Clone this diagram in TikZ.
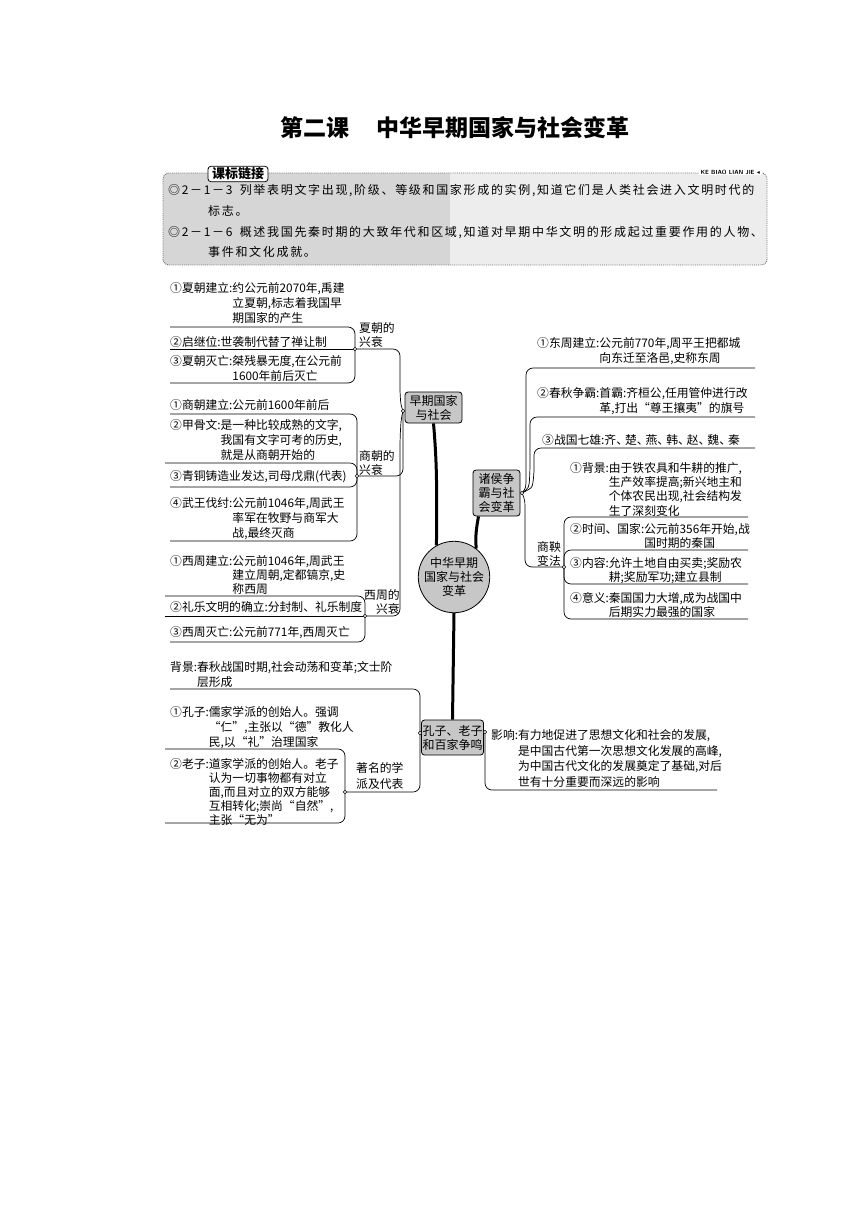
\documentclass[tikz,border=0pt]{standalone}
\usepackage{fontspec}
\setmainfont{Noto Sans CJK SC}
\newfontfamily\symfont{DejaVu Sans}
\newfontfamily\hdfont[LetterSpace=14]{Noto Sans CJK SC}
\newcommand{\hang}[2]{#1\begin{tabular}[t]{@{}l@{}}#2\end{tabular}}
\newcommand{\stk}[1]{\begin{tabular}[t]{@{}l@{}}#1\end{tabular}}
\newcommand{\stkr}[1]{\begin{tabular}[t]{@{}r@{}}#1\end{tabular}}
\newcommand{\dn}{、\kern-3pt}
\tikzset{
 conn/.style={line width=0.7pt, rounded corners=7pt},
 thk/.style={line width=3pt},
 leaf/.style={anchor=base west, inner sep=0pt, font=\fontsize{11.8}{15}\selectfont},
 leafb/.style={anchor=base west, inner sep=0pt, font=\fontsize{11.8}{14}\selectfont},
 leafc/.style={anchor=base west, inner sep=0pt, font=\fontsize{11.8}{13}\selectfont},
 lab/.style={anchor=base west, inner sep=0pt, font=\fontsize{11.8}{13}\selectfont},
 box/.style={draw, line width=0.8pt, fill=black!22, rounded corners=3pt, align=center, inner sep=1pt, font=\fontsize{12}{14}\selectfont},
 dot/.style={circle, draw, fill=white, inner sep=0pt, minimum size=3.6pt, line width=0.5pt},
 hd/.style={anchor=base west, inner sep=0pt, font=\hdfont\fontsize{12}{14}\selectfont},
}
\begin{document}
\begin{tikzpicture}[x=1pt,y=-1pt]
\useasboundingbox[fill=white] (0,0) rectangle (860,1216);

% title
\node[font=\bfseries\fontsize{23}{25}\selectfont] (title) at (455,128) {第二课\hspace{1.2em}中华早期国家与社会变革};

% header box
\begin{scope}
\clip[rounded corners=6pt] (163,173) rectangle (767,265);
\fill[black!16] (163,173) rectangle (450,265);
\fill[black!7] (450,173) rectangle (767,265);
\end{scope}
\draw[black!55, densely dotted, line width=0.9pt, rounded corners=6pt] (163,173) rectangle (767,265);
\node[draw, fill=white, rounded corners=3pt, line width=0.8pt, font=\bfseries\fontsize{13}{15}\selectfont, inner xsep=4pt, inner ysep=1.5pt] (tab) at (238,174) {课标链接};
\node[fill=white, inner xsep=2pt, inner ysep=1pt, font=\sffamily\bfseries\fontsize{6}{7}\selectfont, anchor=east] (kb) at (762,172) {KE BIAO LIAN JIE {\symfont ◂}};
\node[hd] (h1) at (168,194.5) {◎2－1－3\hspace{0.6em}列举表明文字出现,阶级、等级和国家形成的实例,知道它们是人类社会进入文明时代的};
\node[hd] (h2) at (208,215.5) {标志。};
\node[hd] (h3) at (168,236.5) {◎2－1－6\hspace{0.6em}概述我国先秦时期的大致年代和区域,知道对早期中华文明的形成起过重要作用的人物、};
\node[hd] (h4) at (208,256.5) {事件和文化成就。};

% main nodes
\node[circle, draw, line width=0.8pt, fill=black!22, minimum size=66pt, inner sep=0pt, align=center, font=\fontsize{12}{14}\selectfont] (ctr) at (454,577) {中华早期\\国家与社会\\变革};
\node[box, minimum width=57pt, minimum height=31pt] (A) at (433.5,407.5) {早期国家\\与社会};
\node[box, minimum width=47pt, minimum height=46pt] (B) at (496.5,493) {诸侯争\\霸与社\\会变革};
\node[box, minimum width=61pt, minimum height=35pt] (C) at (452.5,737.5) {孔子、老子\\和百家争鸣};

\draw[thk] (ctr.119) to[out=90,in=-85] (A.south);
\draw[thk] (ctr.52) to[out=95,in=-100] ([xshift=-18pt]B.south);
\draw[thk] (ctr.south) -- (C.north);

% junction coordinates
\coordinate (a0) at (403,411);
\coordinate (j1) at (355,349);
\coordinate (j2) at (357,476);
\coordinate (j3) at (365,616);
\coordinate (b0) at (522,493);
\coordinate (s0) at (564,567);
\coordinate (c0) at (420,733);
\coordinate (c1) at (485,732);
\coordinate (k) at (345,792);

% underline ends
\coordinate (wl1) at (170,327);
\coordinate (wl2) at (170,349);
\coordinate (wl3) at (170,383);
\coordinate (wm1) at (170,414);
\coordinate (wm2) at (165,463);
\coordinate (wm3) at (170,487);
\coordinate (wm4) at (170,541);
\coordinate (wn1) at (165,596);
\coordinate (wn2) at (165,616);
\coordinate (wn3) at (170,642);
\coordinate (wr1) at (755,368);
\coordinate (wr2) at (755,417);
\coordinate (wr3) at (755,448);
\coordinate (ws1) at (748,517);
\coordinate (ws2) at (748,550);
\coordinate (ws3) at (748,584);
\coordinate (ws4) at (748,619);
\coordinate (wp0) at (170,689);
\coordinate (wk1) at (165,749);
\coordinate (wk2) at (165,823);
\coordinate (wi0) at (717,790);

% connectors
\draw[conn] (a0) .. controls (401,405) .. (400,395) |- (j1);
\draw[conn] (a0) |- (j2);
\draw[conn] (a0) .. controls (401,420) .. (400,440) |- (j3);
\draw[conn] (j1) |- (wl1);
\draw[conn] (j1) -- (wl2);
\draw[conn] (j1) |- (wl3);
\draw[conn] (j2) |- (wm1);
\draw[conn] (j2) |- (wm2);
\draw[conn] (j2) |- (wm3);
\draw[conn] (j2) |- (wm4);
\draw[conn] (j3) |- (wn1);
\draw[conn] (j3) -- (wn2);
\draw[conn] (j3) |- (wn3);
\draw[conn] (b0) .. controls (526,488) .. (526,470) |- (wr1);
\draw[conn] (b0) .. controls (529,488) .. (530,470) |- (wr2);
\draw[conn] (b0) .. controls (532,488) .. (534,476) |- (wr3);
\draw[conn] (b0) .. controls (525,500) .. (525,520) |- (s0);
\draw[conn] (s0) |- (ws1);
\draw[conn] (s0) |- (ws2);
\draw[conn] (s0) |- (ws3);
\draw[conn] (s0) |- (ws4);
\draw[conn] (c0) |- (wp0);
\draw[conn] (c0) |- (k);
\draw[conn] (k) |- (wk1);
\draw[conn] (k) |- (wk2);
\draw[conn] (c1) |- (wi0);

% dots
\foreach \p in {a0,j1,j2,j3,b0,s0,c0,c1,k} \node[dot] (d\p) at (\p) {};

% branch labels
\node[lab, font=\fontsize{11.8}{14}\selectfont] (lx) at (359,332.5) {\stk{夏朝的\\兴衰}};
\node[lab] (ls) at (359,460.5) {\stk{商朝的\\兴衰}};
\node[lab] (lz) at (364,599.5) {\stkr{西周的\\兴衰}};
\node[lab] (lsy) at (537,551.5) {\stk{商鞅\\变法}};
\node[lab, font=\fontsize{11.8}{16}\selectfont] (lzm) at (356,772.5) {\stk{著名的学\\派及代表}};

% leaves
\node[leaf] (l1) at (170,292.5) {\hang{①夏朝建立:}{约公元前2070年,禹建\\立夏朝,标志着我国早\\期国家的产生}};
\node[leaf] (l2) at (170,346.5) {②启继位:世袭制代替了禅让制};
\node[leaf] (l3) at (170,365.5) {\hang{③夏朝灭亡:}{桀残暴无度,在公元前\\1600年前后灭亡}};
\node[leaf] (m1) at (170,409.5) {①商朝建立:公元前1600年前后};
\node[leaf] (m2) at (170,429.5) {\hang{②甲骨文:}{是一种比较成熟的文字,\\我国有文字可考的历史,\\就是从商朝开始的}};
\node[leaf] (m3) at (170,480.5) {③青铜铸造业发达,司母戊鼎(代表)};
\node[leaf] (m4) at (170,507.5) {\hang{④武王伐纣:}{公元前1046年,周武王\\率军在牧野与商军大\\战,最终灭商}};
\node[leafb] (n1) at (170,565.5) {\hang{①西周建立:}{公元前1046年,周武王\\建立周朝,定都镐京,史\\称西周}};
\node[leaf] (n2) at (170,611.5) {②礼乐文明的确立:分封制、礼乐制度};
\node[leaf] (n3) at (170,636.5) {③西周灭亡:公元前771年,西周灭亡};

\node[leaf] (r1) at (537,347.5) {\hang{①东周建立:}{公元前770年,周平王把都城\\向东迁至洛邑,史称东周}};
\node[leaf] (r2) at (537,397.5) {\hang{②春秋争霸:}{首霸:齐桓公,任用管仲进行改\\革,打出“尊王攘夷”的旗号}};
\node[leaf] (r3) at (542,444.5) {③战国七雄:齐\dn 楚\dn 燕\dn 韩\dn 赵\dn 魏\dn 秦};
\node[leafb] (s1) at (570,472.5) {\hang{①背景:}{由于铁农具和牛耕的推广,\\生产效率提高;新兴地主和\\个体农民出现,社会结构发\\生了深刻变化}};
\node[leafb] (s2) at (570,533.5) {\hang{②时间、国家:}{公元前356年开始,战\\国时期的秦国}};
\node[leafc] (s3) at (570,567.5) {\hang{③内容:}{允许土地自由买卖;奖励农\\耕;奖励军功;建立县制}};
\node[leafc] (s4) at (570,602.5) {\hang{④意义:}{秦国国力大增,成为战国中\\后期实力最强的国家}};

\node[leaf] (p0) at (170,671.5) {\hang{背景:}{春秋战国时期,社会动荡和变革;文士阶\\层形成}};
\node[leaf] (k1) at (170,716.5) {\hang{①孔子:}{儒家学派的创始人。强调\\“仁”,主张以“德”教化人\\民,以“礼”治理国家}};
\node[leafc] (k2) at (170,768.5) {\hang{②老子:}{道家学派的创始人。老子\\认为一切事物都有对立\\面,而且对立的双方能够\\互相转化;崇尚“自然”,\\主张“无为”}};
\node[leaf, font=\fontsize{11.8}{15.5}\selectfont] (i0) at (491,739.5) {\hang{影响:}{有力地促进了思想文化和社会的发展,\\是中国古代第一次思想文化发展的高峰,\\为中国古代文化的发展奠定了基础,对后\\世有十分重要而深远的影响}};
\end{tikzpicture}
\end{document}
